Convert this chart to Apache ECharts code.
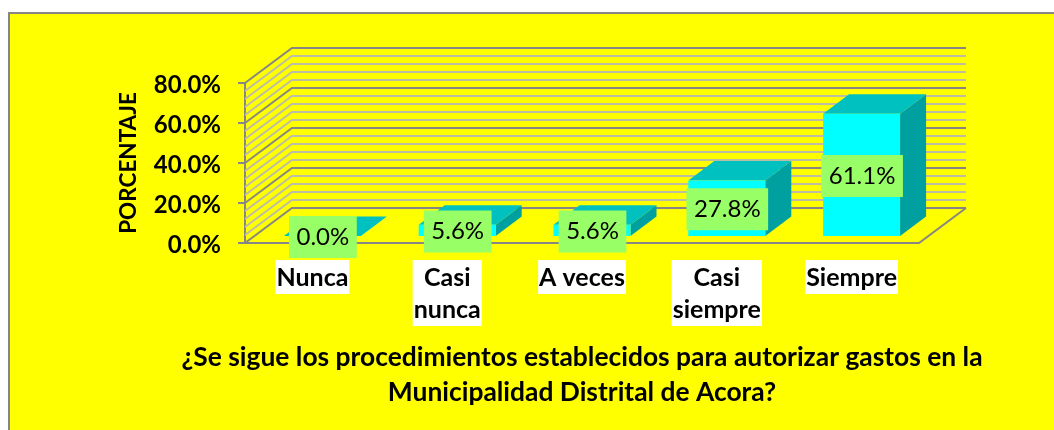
<!DOCTYPE html>
<html>
<head>
<meta charset="utf-8">
<script src="https://cdn.jsdelivr.net/npm/echarts@6/dist/echarts.min.js"></script>
<style>
  html, body { margin: 0; padding: 0; background: #fff; }
  #chart { width: 1054px; height: 430px; }
</style>
</head>
<body>
<div id="chart"></div>
<script>
const categories = ['Nunca', 'Casi\nnunca', 'A veces', 'Casi\nsiempre', 'Siempre']
const values = [0.0, 5.6, 5.6, 27.8, 61.1]
const wallTicks = [0, 4, 8, 12, 16, 20, 24, 28, 32, 36, 40, 44, 48, 52, 56, 60, 64, 68, 72, 76, 80]
const xTitle = '¿Se sigue los procedimientos establecidos para autorizar gastos en la\nMunicipalidad Distrital de Acora?'
const yTitle = 'PORCENTAJE'

const FONT = 'Lato'
// profundidad de la "caja" 3D y de cada barra
const WALL_DX = 47
const WALL_DY = 35
const BAR_DX = 26
const BAR_DY = 19.5
const BAR_SHIFT_X = 10
const BAR_SHIFT_Y = 7
const BAR_RATIO = 0.571

const chart = echarts.init(document.getElementById('chart'))

function renderWall (params, api) {
  const v = api.value(0)
  const sys = params.coordSys
  const y = api.coord([0, v])[1]
  const major = v % 20 === 0
  return {
    type: 'polyline',
    shape: {
      points: [
        [sys.x, y],
        [sys.x + WALL_DX, y - WALL_DY],
        [sys.x + sys.width + WALL_DX, y - WALL_DY]
      ]
    },
    style: { fill: null, stroke: major ? '#868686' : '#BDBDA6', lineWidth: 2 }
  }
}

function renderFloor (params, api) {
  const sys = params.coordSys
  const y = api.coord([0, 0])[1]
  const x2 = sys.x + sys.width
  return {
    type: 'polyline',
    shape: { points: [[sys.x, y], [x2, y], [x2 + WALL_DX, y - WALL_DY]] },
    style: { fill: null, stroke: '#868686', lineWidth: 2 }
  }
}

function renderBar (params, api) {
  const pos = api.coord([api.value(0), 0])
  const top = api.coord([api.value(0), api.value(1)])[1] - BAR_SHIFT_Y
  const w = api.size([1, 0])[0] * BAR_RATIO
  const l = pos[0] + BAR_SHIFT_X - w / 2
  const r = l + w
  const b = pos[1] - BAR_SHIFT_Y
  return {
    type: 'group',
    children: [
      { type: 'polygon', shape: { points: [[r, top], [r + BAR_DX, top - BAR_DY], [r + BAR_DX, b - BAR_DY], [r, b]] }, style: { fill: '#00A0A0' } },
      { type: 'polygon', shape: { points: [[l, top], [l + BAR_DX, top - BAR_DY], [r + BAR_DX, top - BAR_DY], [r, top]] }, style: { fill: '#00C0C0' } },
      { type: 'rect', shape: { x: l, y: top, width: w, height: b - top }, style: { fill: '#00FFFF' } },
      {
        type: 'text',
        z2: 10,
        style: {
          x: (l + r) / 2 + 0.5,
          y: (top + b) / 2 + 1,
          text: api.value(1).toFixed(1) + '%',
          align: 'center',
          verticalAlign: 'middle',
          fill: '#000',
          font: '24px ' + FONT,
          backgroundColor: '#99FF66',
          padding: [9, 7.5, 9, 7.5]
        }
      }
    ]
  }
}

const option = {
  animation: false,
  backgroundColor: '#fff',
  graphic: [{
    type: 'rect',
    z: -10,
    shape: { x: 9, y: 13, width: 1060, height: 430 },
    style: { fill: '#FFFF00', stroke: '#868686', lineWidth: 2 }
  }],
  title: {
    text: xTitle,
    left: 577,
    top: 335,
    textAlign: 'center',
    textStyle: { fontFamily: FONT, fontWeight: 'bold', fontSize: 26.4, lineHeight: 35, color: '#000' }
  },
  grid: { left: 245, right: 135, top: 83, bottom: 187 },
  xAxis: {
    type: 'category',
    data: categories,
    axisLine: { show: false },
    axisTick: { show: false },
    axisLabel: {
      interval: 0,
      margin: 17,
      fontFamily: FONT,
      fontWeight: 'bold',
      fontSize: 25,
      lineHeight: 32,
      color: '#000',
      backgroundColor: '#fff',
      padding: [2, 1, 0, 1]
    }
  },
  yAxis: {
    type: 'value',
    min: 0,
    max: 80,
    interval: 20,
    name: yTitle,
    nameLocation: 'middle',
    nameGap: 105,
    nameTextStyle: { fontFamily: FONT, fontWeight: 'bold', fontSize: 22.5, color: '#000' },
    splitLine: { show: false },
    axisLine: { show: true, lineStyle: { color: '#868686', width: 2 } },
    axisTick: { show: true, length: 7, lineStyle: { color: '#868686', width: 2 } },
    axisLabel: {
      margin: 24,
      color: '#000',
      formatter: v => '{t|' + v.toFixed(1) + '%}',
      rich: {
        t: {
          fontFamily: FONT,
          fontWeight: 'bold',
          fontSize: 24,
          color: '#000',
          padding: [5, 0, 0, 0]
        }
      }
    }
  },
  series: [
    {
      type: 'custom',
      coordinateSystem: 'cartesian2d',
      silent: true,
      z: 1,
      encode: { y: 0 },
      data: wallTicks.map(v => [v]),
      renderItem: renderWall
    },
    {
      type: 'custom',
      coordinateSystem: 'cartesian2d',
      silent: true,
      z: 2,
      encode: { y: 0 },
      data: [[0]],
      renderItem: renderFloor
    },
    {
      type: 'custom',
      coordinateSystem: 'cartesian2d',
      z: 3,
      encode: { x: 0, y: 1 },
      data: values.map((v, i) => [i, v]),
      renderItem: renderBar
    }
  ]
}
chart.setOption(option)
</script>
</body>
</html>
